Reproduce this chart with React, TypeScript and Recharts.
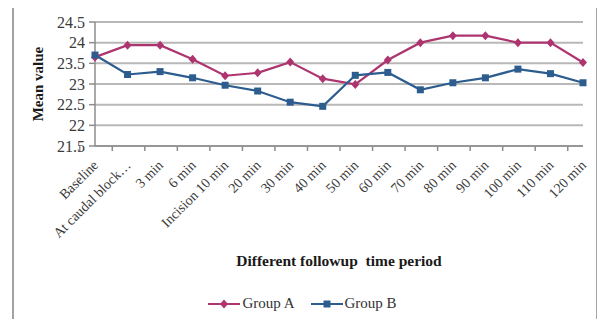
import React from "react";
import {
  LineChart,
  Line,
  XAxis,
  YAxis,
  CartesianGrid,
  Legend,
  Customized,
} from "recharts";

const periods = [
  "Baseline",
  "At caudal block…",
  "3 min",
  "6 min",
  "Incision 10 min",
  "20 min",
  "30 min",
  "40 min",
  "50 min",
  "60 min",
  "70 min",
  "80 min",
  "90 min",
  "100 min",
  "110 min",
  "120 min",
];
const groupA = [
  23.65, 23.94, 23.94, 23.6, 23.2, 23.27, 23.53, 23.13, 22.99, 23.58, 24.0,
  24.17, 24.17, 24.0, 24.0, 23.52,
];
const groupB = [
  23.7, 23.23, 23.3, 23.15, 22.97, 22.83, 22.56, 22.46, 23.21, 23.28, 22.86,
  23.03, 23.15, 23.36, 23.25, 23.03,
];
const yTicks = [21.5, 22, 22.5, 23, 23.5, 24, 24.5];

const data = periods.map((p, i) => ({
  period: p,
  a: groupA[i],
  b: groupB[i],
}));

const PINK = "#AE3470";
const BLUE = "#2D5D8E";
const SERIF = "'Liberation Serif', 'DejaVu Serif', serif";
const BAND = 488 / periods.length;

const Diamond = (props: any) => {
  const { cx, cy } = props;
  if (cx == null || cy == null) return null;
  return (
    <path
      d={`M${cx},${cy - 4.5}L${cx + 4},${cy}L${cx},${cy + 4.5}L${cx - 4},${cy}Z`}
      fill={PINK}
    />
  );
};

const Square = (props: any) => {
  const { cx, cy } = props;
  if (cx == null || cy == null) return null;
  return <rect x={cx - 3.5} y={cy - 3.5} width={7} height={7} fill={BLUE} />;
};

// tick marks sit between categories, labels are rotated under each point
const PeriodTick = (props: any) => {
  const { x, y, payload, index } = props;
  const last = index === periods.length - 1;
  const tx = x + 4;
  const ty = y + 12;
  return (
    <g>
      <line x1={x - BAND / 2} y1={y - 8} x2={x - BAND / 2} y2={y - 3} stroke="#8c8c8c" strokeWidth={1.5} />
      {last && (
        <line x1={x + BAND / 2} y1={y - 8} x2={x + BAND / 2} y2={y - 3} stroke="#8c8c8c" strokeWidth={1.5} />
      )}
      <text
        x={tx}
        y={ty}
        textAnchor="end"
        transform={`rotate(-45, ${tx}, ${ty})`}
        fontFamily={SERIF}
        fontSize={14}
        fill="#3a3a3a"
      >
        {payload.value}
      </text>
    </g>
  );
};

// outer frame around the whole chart
const Frame = () => (
  <g>
    <line x1={13} y1={5} x2={597} y2={5} stroke="#a3a3a3" strokeWidth={2} />
    <line x1={13} y1={321} x2={597} y2={321} stroke="#a3a3a3" strokeWidth={2} />
    <line x1={13} y1={5} x2={13} y2={321} stroke="#a3a3a3" strokeWidth={2} />
    <line x1={597} y1={5} x2={597} y2={321} stroke="#a3a3a3" strokeWidth={2} />
  </g>
);

const LegendContent = () => (
  <div
    style={{
      display: "flex",
      justifyContent: "center",
      gap: 16,
      fontFamily: SERIF,
      fontSize: 15,
      color: "#333",
    }}
  >
    {[
      { name: "Group A", color: PINK, square: false },
      { name: "Group B", color: BLUE, square: true },
    ].map((g) => (
      <div key={g.name} style={{ display: "flex", alignItems: "center" }}>
        <svg width={32} height={12}>
          <line x1={0} y1={6} x2={32} y2={6} stroke={g.color} strokeWidth={2} />
          {g.square ? (
            <rect x={12.5} y={2.5} width={7} height={7} fill={g.color} />
          ) : (
            <path d="M16,1.5L20,6L16,10.5L12,6Z" fill={g.color} />
          )}
        </svg>
        <span style={{ marginLeft: 2 }}>{g.name}</span>
      </div>
    ))}
  </div>
);

export default function App() {
  return (
    <div style={{ position: "relative", margin: -8, width: 605, height: 327, background: "#fff" }}>
      <LineChart
        width={605}
        height={327}
        data={data}
        margin={{ top: 22, right: 22, left: 0, bottom: 0 }}
      >
        <Customized component={<Frame />} />
        <CartesianGrid vertical={false} stroke="#b8b8b8" strokeWidth={2} />
        <XAxis
          dataKey="period"
          height={181}
          interval={0}
          tickLine={false}
          axisLine={{ stroke: "#8c8c8c", strokeWidth: 1.5 }}
          tick={<PeriodTick />}
          label={{
            value: "Different followup\u00A0 time period",
            position: "insideBottom",
            offset: 61,
            style: {
              fontFamily: SERIF,
              fontSize: 15.5,
              fontWeight: "bold",
              fill: "#1a1a1a",
            },
          }}
        />
        <YAxis
          width={95}
          domain={[21.5, 24.5]}
          ticks={yTicks}
          interval={0}
          tickSize={6}
          tickMargin={4}
          tickLine={{ stroke: "#8c8c8c", strokeWidth: 1.5 }}
          axisLine={{ stroke: "#8c8c8c", strokeWidth: 1.5 }}
          tick={{ fontFamily: SERIF, fontSize: 16, fill: "#3a3a3a" }}
          label={{
            value: "Mean value",
            angle: -90,
            position: "insideLeft",
            offset: 38,
            style: {
              fontFamily: SERIF,
              fontSize: 15,
              fontWeight: "bold",
              fill: "#1a1a1a",
              textAnchor: "middle",
            },
          }}
        />
        <Line
          dataKey="a"
          name="Group A"
          stroke={PINK}
          strokeWidth={2.2}
          dot={<Diamond />}
          activeDot={false}
          isAnimationActive={false}
        />
        <Line
          dataKey="b"
          name="Group B"
          stroke={BLUE}
          strokeWidth={2.2}
          dot={<Square />}
          activeDot={false}
          isAnimationActive={false}
        />
        <Legend
          layout="horizontal"
          verticalAlign="middle"
          align="center"
          content={<LegendContent />}
          wrapperStyle={{ top: 295, left: 0, width: 605 }}
        />
      </LineChart>
    </div>
  );
}
